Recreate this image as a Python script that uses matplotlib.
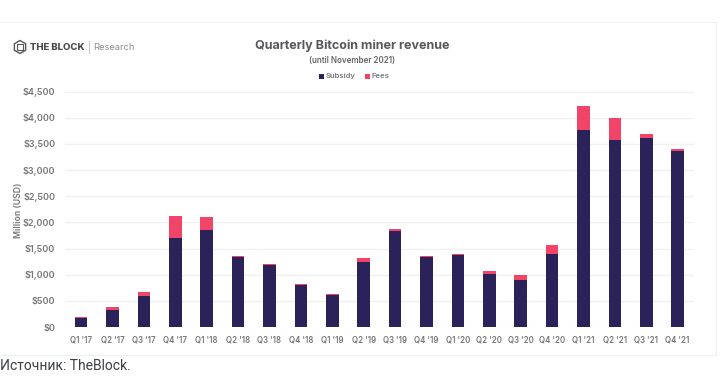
import matplotlib
matplotlib.use("Agg")
import matplotlib.pyplot as plt
from matplotlib.patches import RegularPolygon, Rectangle
from matplotlib.lines import Line2D

quarters = ["Q1 '17", "Q2 '17", "Q3 '17", "Q4 '17", "Q1 '18", "Q2 '18", "Q3 '18", "Q4 '18", "Q1 '19", "Q2 '19",
            "Q3 '19", "Q4 '19", "Q1 '20", "Q2 '20", "Q3 '20", "Q4 '20", "Q1 '21", "Q2 '21", "Q3 '21", "Q4 '21"]
subsidy = [166, 320, 600, 1707, 1860, 1344, 1178, 809, 618, 1249,
           1828, 1338, 1370, 1013, 905, 1401, 3758, 3574, 3618, 3357]
fees = [19, 62, 75, 408, 236, 19, 19, 13, 12, 76,
        45, 19, 19, 51, 82, 160, 478, 414, 70, 45]
y_ticks = [0, 500, 1000, 1500, 2000, 2500, 3000, 3500, 4000, 4500]

W, H = 721, 376
NAVY, PINK, GRID, TXT = "#2a2259", "#f04468", "#f1f1f3", "#77777b"
plt.rcParams["font.family"] = ["Inter", "DejaVu Sans"]
WEIGHT = "semibold"

fig = plt.figure(figsize=(W / 100, H / 100), dpi=100, facecolor="white")
ax = fig.add_axes([65 / W, 1 - 327 / H, (694 - 65) / W, (327 - 91.7) / H])
positions = list(range(len(quarters)))
ax.bar(positions, subsidy, width=0.4, color=NAVY, zorder=3, label="Subsidy")
ax.bar(positions, fees, width=0.4, bottom=subsidy, color=PINK, zorder=3, label="Fees")
ax.set_xlim(-0.51, 19.52)
ax.set_ylim(0, 4500)
ax.set_yticks(y_ticks)
ax.set_yticklabels([f"${v:,}" for v in y_ticks], fontsize=6.5, fontweight=WEIGHT, color=TXT)
ax.set_xticks(positions)
ax.set_xticklabels(quarters, fontsize=5.7, fontweight=WEIGHT, color=TXT)
ax.tick_params(length=0)
ax.tick_params(axis="y", pad=7)
ax.tick_params(axis="x", pad=6)
ax.grid(axis="y", color=GRID, linewidth=1, zorder=0)
ax.set_axisbelow(True)
for s in ax.spines.values():
    s.set_visible(False)
ax.set_ylabel("Million (USD)", fontsize=6.3, fontweight=WEIGHT, color=TXT, labelpad=0)
ax.yaxis.set_label_coords((23 - 65) / (694 - 65), (327 - 210) / (327 - 91.7))

def fx(x): return x / W
def fy(y): return 1 - y / H

# card outline
for seg in [((0, 21.5), (716, 21.5)), ((716, 21.5), (716, 355)), ((0, 355), (716, 355))]:
    fig.add_artist(Line2D([fx(seg[0][0]), fx(seg[1][0])], [fy(seg[0][1]), fy(seg[1][1])], color="#f0f0f2", lw=0.8))

# titles
fig.text(fx(352.5), fy(46), "Quarterly Bitcoin miner revenue", ha="center", va="center",
         fontsize=9.0, fontweight="bold", color="#58585c")
fig.text(fx(352.5), fy(60.5), "(until November 2021)", ha="center", va="center",
         fontsize=5.8, fontweight=WEIGHT, color="#66666a")

# legend
fig.add_artist(Rectangle((fx(318.5), fy(79)), 5 / W, 5 / H, transform=fig.transFigure, facecolor=NAVY, linewidth=0))
fig.text(fx(326), fy(76), "Subsidy", ha="left", va="center", fontsize=5.5, fontweight=WEIGHT, color=TXT)
fig.add_artist(Rectangle((fx(364.5), fy(79)), 5 / W, 5 / H, transform=fig.transFigure, facecolor=PINK, linewidth=0))
fig.text(fx(372), fy(76), "Fees", ha="left", va="center", fontsize=5.5, fontweight=WEIGHT, color=TXT)

# logo
hexagon = RegularPolygon((20, H - 47), 6, radius=6.5, transform=None, fill=False, edgecolor="#55555a", linewidth=1)
fig.add_artist(hexagon)
square = Rectangle((17, H - 50), 6, 6, transform=None, fill=False, edgecolor="#55555a", linewidth=0.8)
fig.add_artist(square)
fig.text(fx(30.5), fy(47), "THE BLOCK", ha="left", va="center", fontsize=6.9, fontweight="heavy", color="#4c4c50")
fig.add_artist(Line2D([fx(88.5), fx(88.5)], [fy(41), fy(53)], color="#c8c8cc", lw=0.8))
fig.text(fx(93), fy(47), "Research", ha="left", va="center", fontsize=6.7, color="#8c8c90")

# source caption
fig.text(fx(0), fy(366), "Источник: TheBlock.", ha="left", va="center", fontsize=10, color="#3c4043",
         family=["Roboto", "DejaVu Sans"])

fig.savefig("out.png", dpi=100, facecolor="white")
